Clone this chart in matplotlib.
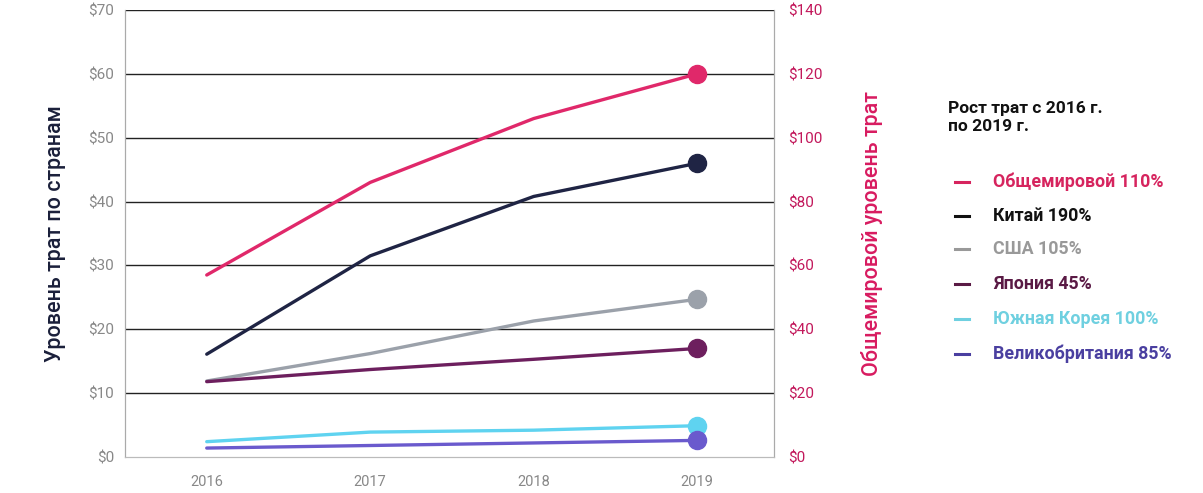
import matplotlib
matplotlib.use("Agg")
import matplotlib.pyplot as plt
from matplotlib.lines import Line2D

plt.rcParams['font.family'] = ['Roboto', 'DejaVu Sans']

years = [2016, 2017, 2018, 2019]
world = [57, 86, 106, 120]          # right axis
china = [16.1, 31.5, 40.8, 46.0]
usa = [11.9, 16.2, 21.3, 24.7]
japan = [11.8, 13.7, 15.3, 17.0]
korea = [2.4, 3.9, 4.2, 4.9]
uk = [1.4, 1.8, 2.2, 2.6]

left_ticks = [0, 10, 20, 30, 40, 50, 60, 70]
right_ticks = [0, 20, 40, 60, 80, 100, 120, 140]

c_world = '#e0286a'
c_china = '#1f2444'
c_usa = '#9ba1aa'
c_japan = '#6d1f5e'
c_korea = '#5fd3f0'
c_uk = '#6a5acd'

legend_title = "Рост трат с 2016 г.\nпо 2019 г."
legend_items = [
    ("Общемировой 110%", '#d6245e'),
    ("Китай 190%", '#111111'),
    ("США 105%", '#999999'),
    ("Япония 45%", '#5a1a45'),
    ("Южная Корея 100%", '#6fd0e0'),
    ("Великобритания 85%", '#4a3fa0'),
]

W, H = 1203, 493
fig = plt.figure(figsize=(W / 100, H / 100), dpi=100)
ax = fig.add_axes([125 / W, 1 - 457 / H, (774 - 125) / W, (457 - 10) / H])
ax2 = ax.twinx()

ax.set_xlim(2015.5, 2019.47)
ax.set_ylim(0, 70)
ax2.set_ylim(0, 140)

for v in left_ticks[1:]:
    ax.axhline(v, color='#222222', lw=1.0, zorder=1)

for vals, col in [(china, c_china), (usa, c_usa), (japan, c_japan), (korea, c_korea), (uk, c_uk)]:
    ax.plot(years, vals, color=col, lw=2.4, solid_capstyle='round', solid_joinstyle='round', zorder=3)
    ax.plot(years[-1], vals[-1], 'o', color=col, markersize=13, zorder=4)
ax2.plot(years, world, color=c_world, lw=2.4, solid_capstyle='round', solid_joinstyle='round', zorder=3)
ax2.plot(years[-1], world[-1], 'o', color=c_world, markersize=13, zorder=4)

ax.set_xticks(years)
ax.set_xticklabels([str(y) for y in years], color='#888888', fontsize=10.5)
ax.set_yticks(left_ticks)
ax.set_yticklabels([f"${v}" for v in left_ticks], color='#888888', fontsize=11)
ax2.set_yticks(right_ticks)
ax2.set_yticklabels([f"${v}" for v in right_ticks], color='#c2185b', fontsize=11)
ax.tick_params(axis='y', length=0, pad=8)
ax.tick_params(axis='x', length=0, pad=13)
ax2.tick_params(axis='y', length=0, pad=10)

for a in (ax, ax2):
    a.spines['top'].set_visible(False)
    a.spines['bottom'].set_color('#bbbbbb')
    a.spines['left'].set_color('#aaaaaa')
    a.spines['right'].set_color('#aaaaaa')

ax.set_ylabel("Уровень трат по странам", color='#1a1f3a', fontsize=15.5,
              fontweight='medium', labelpad=16)
ax2.set_ylabel("Общемировой уровень трат", color='#d81b60', fontsize=15.5,
               fontweight='medium', labelpad=28)

fig.text(948 / W, 1 - 101 / H, legend_title, fontsize=12.5, fontweight='bold',
         color='#111111', va='top', ha='left', linespacing=1.25)
ys = [182, 216, 249, 284, 319, 354]
for (txt, col), y in zip(legend_items, ys):
    yy = 1 - y / H
    fig.add_artist(Line2D([955 / W, 969 / W], [yy, yy], color=col, lw=2.2,
                          transform=fig.transFigure))
    fig.text(993 / W, yy, txt, fontsize=12.8, fontweight='bold', color=col,
             va='center', ha='left')

fig.savefig("out.png", dpi=100)
